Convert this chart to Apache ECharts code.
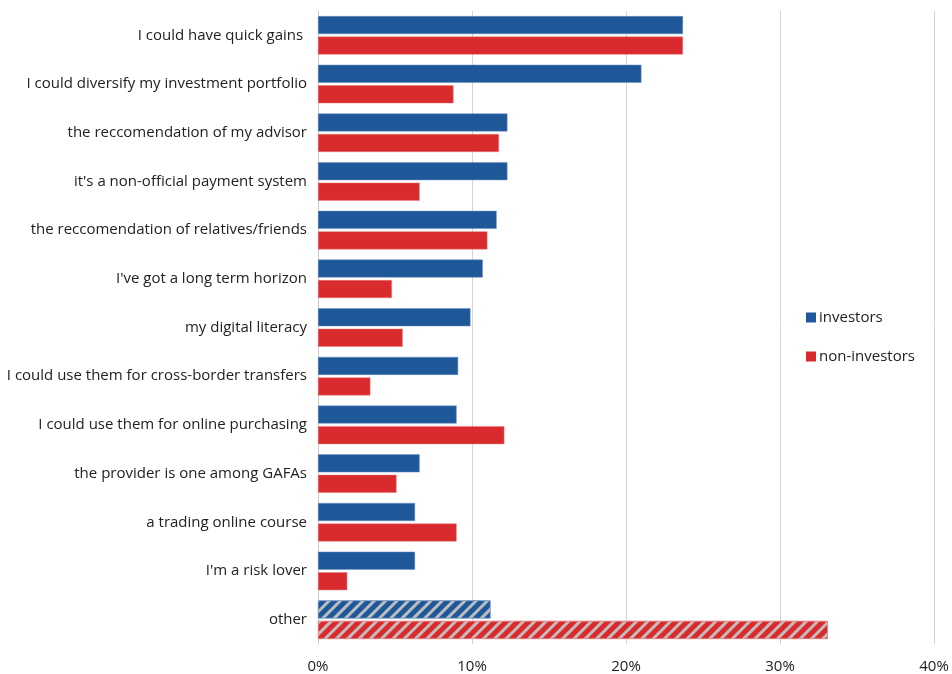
<!DOCTYPE html>
<html>
<head>
    <meta charset='utf-8' />
    <title>motives</title>
    <script src="https://cdn.jsdelivr.net/npm/echarts@6/dist/echarts.min.js"></script>
</head>
<body style='margin:0;width: 952px;height:674px;background:#fff;'>
<div id='bar' style='width:952px;height:674px;'></div>

<script type='text/javascript'>
    // categories, top to bottom
    var reasons = [
        'I could have quick gains ',
        'I could diversify my investment portfolio',
        'the reccomendation of my advisor',
        "it's a non-official payment system",
        'the reccomendation of relatives/friends',
        "I've got a long term horizon",
        'my digital literacy',
        'I could use them for cross-border transfers',
        'I could use them for online purchasing',
        'the provider is one among GAFAs',
        'a trading online course',
        "I'm a risk lover",
        'other'
    ];
    // share of respondents, %
    var investors    = [23.7, 21.0, 12.3, 12.3, 11.6, 10.7, 9.9, 9.1, 9.0, 6.6, 6.3, 6.3, 11.2];
    var nonInvestors = [23.7, 8.8, 11.75, 6.6, 11.0, 4.8, 5.5, 3.4, 12.1, 5.1, 9.0, 1.9, 33.1];
    var xTicks = [0, 10, 20, 30, 40];

    var hatch = {
        symbol: 'rect',
        color: 'rgba(195,195,195,0.95)',
        dashArrayX: [1, 0],
        dashArrayY: [3, 5],
        rotation: -Math.PI / 4
    };

    // last category ("other") gets the striped fill
    function withHatch(arr) {
        return arr.map(function (v, i) {
            if (reasons[i] === 'other') {
                return { value: v, itemStyle: { decal: hatch } };
            }
            return v;
        });
    }

    var font = 'Open Sans';
    var chart = echarts.init(document.getElementById('bar'));
    var option = {
        animation: false,
        textStyle: { fontFamily: font },
        legend: {
            orient: 'vertical',
            left: 801,
            top: 305,
            itemGap: 24,
            itemWidth: 10,
            itemHeight: 10,
            icon: 'rect',
            itemStyle: { borderWidth: 0 },
            textStyle: { fontSize: 15, color: '#222', fontFamily: font, padding: [0, 0, 0, -2] },
            data: ['investors', 'non-investors']
        },
        grid: { left: 318, right: 18, top: 11, bottom: 30 },
        xAxis: {
            type: 'value',
            min: xTicks[0],
            max: xTicks[xTicks.length - 1],
            interval: 10,
            axisLine: { show: false },
            axisTick: { show: false },
            splitLine: { lineStyle: { color: '#d4d4d4', width: 1 } },
            axisLabel: { formatter: '{value}%', fontSize: 15, color: '#222', margin: 15, fontFamily: font }
        },
        yAxis: {
            type: 'category',
            inverse: true,
            data: reasons,
            axisLine: { show: true, lineStyle: { color: '#c8c8c8' } },
            axisTick: { show: false },
            axisLabel: { fontSize: 15, color: '#222', margin: 11, fontFamily: font }
        },
        series: [
            {
                name: 'investors',
                type: 'bar',
                data: withHatch(investors),
                barWidth: 18,
                barGap: '14%',
                itemStyle: { color: '#1f5899', borderColor: '#6d8fc0', borderWidth: 0.5 }
            },
            {
                name: 'non-investors',
                type: 'bar',
                data: withHatch(nonInvestors),
                barWidth: 18,
                itemStyle: { color: '#d92b2e', borderColor: '#e87a7c', borderWidth: 0.5 }
            }
        ]
    };
    chart.setOption(option);
</script>
</body>
</html>
